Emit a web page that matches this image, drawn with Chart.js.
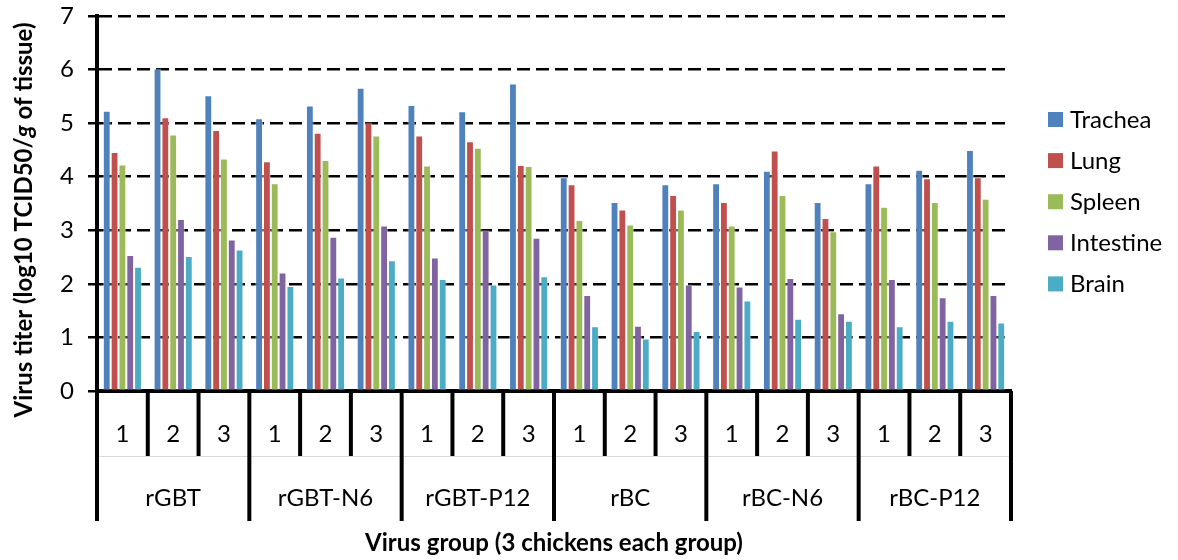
<!DOCTYPE html>
<html>
<head>
<meta charset="utf-8">
<script src="https://cdn.jsdelivr.net/npm/chart.js@4.4.1/dist/chart.umd.min.js"></script>
<style>
  html, body { margin: 0; padding: 0; background: #fff; }
  #wrap { width: 1178px; height: 560px; position: relative; }
</style>
</head>
<body>
<div id="wrap"><canvas id="c" width="1178" height="560"></canvas></div>
<script>
const groups = ['rGBT', 'rGBT-N6', 'rGBT-P12', 'rBC', 'rBC-N6', 'rBC-P12'];
const chickens = ['1', '2', '3'];
const categories = groups.flatMap(g => chickens.map(c => g + ' ' + c));
const seriesNames = ['Trachea', 'Lung', 'Spleen', 'Intestine', 'Brain'];
const seriesColors = ['#4F81BD', '#C0504D', '#9BBB59', '#8064A2', '#4BACC6'];

const trachea   = [5.23, 6.02, 5.52, 5.09, 5.33, 5.66, 5.34, 5.22, 5.74, 3.99, 3.53, 3.86, 3.88, 4.11, 3.53, 3.88, 4.13, 4.50];
const lung      = [4.46, 5.11, 4.87, 4.29, 4.82, 5.01, 4.77, 4.66, 4.22, 3.86, 3.39, 3.66, 3.53, 4.49, 3.23, 4.21, 3.97, 3.99];
const spleen    = [4.23, 4.79, 4.34, 3.88, 4.31, 4.77, 4.21, 4.54, 4.20, 3.19, 3.11, 3.39, 3.09, 3.66, 2.98, 3.44, 3.53, 3.59];
const intestine = [2.54, 3.21, 2.83, 2.21, 2.88, 3.09, 2.49, 3.00, 2.86, 1.79, 1.22, 1.99, 1.95, 2.11, 1.45, 2.09, 1.75, 1.79];
const brain     = [2.32, 2.52, 2.64, 1.96, 2.12, 2.44, 2.09, 1.99, 2.14, 1.21, 0.98, 1.12, 1.69, 1.35, 1.31, 1.21, 1.31, 1.28];
const seriesValues = [trachea, lung, spleen, intestine, brain];

const yTicks = [0, 1, 2, 3, 4, 5, 6, 7];
const xTitle = 'Virus group (3 chickens each group)';
const yTitleParts = [['Virus titer (log10 TCID50/', 'bold'], ['g', 'bold italic'], [' of tissue)', 'bold']];

const FONT = 'Lato, "Open Sans", sans-serif';

const customDraw = {
  id: 'customDraw',
  afterDraw(chart) {
    const ctx = chart.ctx;
    const ca = chart.chartArea;
    const xs = chart.scales.x;
    const n = categories.length;
    ctx.save();
    // faint row divider
    ctx.strokeStyle = '#d9d9d9';
    ctx.lineWidth = 1;
    ctx.beginPath();
    ctx.moveTo(ca.left, 456.5);
    ctx.lineTo(ca.right, 456.5);
    ctx.stroke();
    // separators
    ctx.strokeStyle = '#000';
    ctx.lineWidth = 4;
    for (let i = 0; i <= n; i++) {
      let xb;
      if (i === 0) xb = ca.left;
      else if (i === n) xb = ca.right;
      else xb = (xs.getPixelForValue(i - 1) + xs.getPixelForValue(i)) / 2;
      const yEnd = (i % 3 === 0) ? 521 : 456;
      ctx.beginPath();
      ctx.moveTo(xb, ca.bottom);
      ctx.lineTo(xb, yEnd);
      ctx.stroke();
    }
    // chicken numbers
    ctx.fillStyle = '#000';
    ctx.textAlign = 'center';
    ctx.textBaseline = 'alphabetic';
    ctx.font = '24px ' + FONT;
    for (let i = 0; i < n; i++) {
      ctx.fillText(chickens[i % 3], xs.getPixelForValue(i), 442);
    }
    // group names
    for (let g = 0; g < groups.length; g++) {
      const xc = xs.getPixelForValue(g * 3 + 1);
      ctx.fillText(groups[g], xc, 506);
    }
    // x title
    ctx.font = 'bold 24px ' + FONT;
    ctx.fillText(xTitle, (ca.left + ca.right) / 2, 551);
    // y title (rotated, mixed style)
    ctx.translate(32, 220);
    ctx.rotate(-Math.PI / 2);
    let total = 0;
    const widths = yTitleParts.map(p => { ctx.font = p[1] + ' 24px ' + FONT; const w = ctx.measureText(p[0]).width; total += w; return w; });
    let x0 = -total / 2;
    ctx.textAlign = 'left';
    yTitleParts.forEach((p, k) => {
      ctx.font = p[1] + ' 24px ' + FONT;
      ctx.fillText(p[0], x0, 0);
      x0 += widths[k];
    });
    ctx.restore();
    // legend
    ctx.save();
    ctx.font = '24px ' + FONT;
    ctx.textAlign = 'left';
    ctx.textBaseline = 'alphabetic';
    chart.data.datasets.forEach((ds, k) => {
      const yc = 119.5 + k * 41.1;
      ctx.fillStyle = ds.backgroundColor;
      ctx.fillRect(1048, yc - 7.5, 15, 15);
      ctx.fillStyle = '#000';
      ctx.fillText(ds.label, 1070, yc + 8);
    });
    ctx.restore();
  }
};

new Chart(document.getElementById('c'), {
  type: 'bar',
  data: {
    labels: categories,
    datasets: seriesNames.map((name, k) => ({
      label: name,
      data: seriesValues[k],
      backgroundColor: seriesColors[k],
      borderColor: 'rgba(255,255,255,0.45)',
      borderWidth: 1,
      categoryPercentage: 0.77,
      barPercentage: 1.0
    }))
  },
  options: {
    responsive: false,
    animation: false,
    devicePixelRatio: 1,
    layout: { padding: { top: 16, right: 167, left: 0, bottom: 0 } },
    plugins: { legend: { display: false }, tooltip: { enabled: false } },
    scales: {
      x: {
        grid: { display: false, drawTicks: false },
        border: { display: true, color: '#000', width: 4 },
        ticks: { display: false },
        afterFit(scale) { scale.height = 169; scale.paddingLeft = 0; scale.paddingRight = 0; }
      },
      y: {
        min: 0, max: 7,
        afterBuildTicks(scale) { scale.ticks = yTicks.map(v => ({ value: v })); },
        afterFit(scale) { scale.width = 97; scale.paddingTop = 0; scale.paddingBottom = 0; },
        ticks: { color: '#000', font: { size: 24, family: FONT }, padding: 14 },
        grid: { color: '#000', lineWidth: 2.5, tickLength: 9, tickColor: '#000', tickWidth: 2.5, tickBorderDash: [] },
        border: { display: true, color: '#000', width: 4, dash: [13, 6] }
      }
    }
  },
  plugins: [customDraw]
});
</script>
</body>
</html>
